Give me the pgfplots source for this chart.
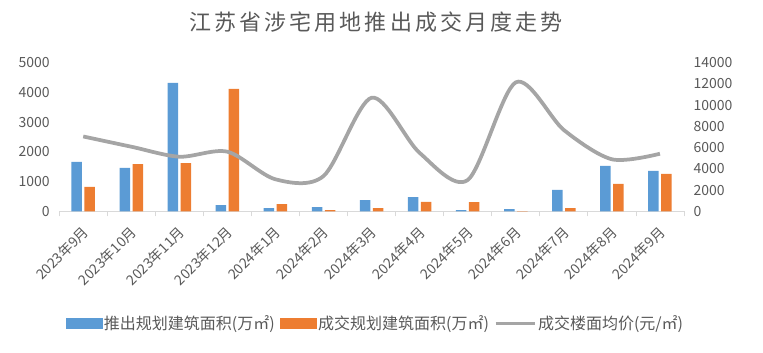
\documentclass[border=0pt]{standalone}
\usepackage{pgfplots}
\pgfplotsset{compat=1.18}
\usepackage{fontspec}
\setmainfont{Noto Sans CJK SC}
\definecolor{cblue}{HTML}{5B9BD5}
\definecolor{corange}{HTML}{ED7D31}
\definecolor{cgray}{HTML}{A5A5A5}
\definecolor{ctext}{HTML}{595959}
\definecolor{caxis}{HTML}{D9D9D9}
\pgfplotsset{
  base/.style={
    scale only axis, width=624.8pt, height=148.6pt,
    at={(59.2pt,141.7pt)}, anchor=south west,
    xmin=-0.5, xmax=12.5,
    /pgf/number format/assume math mode=true,
    /pgf/number format/1000 sep={},
    scaled y ticks=false,
    ticklabel style={font=\fontsize{14}{16}\selectfont, text=ctext},
    major tick length=0pt,
  }
}
\begin{document}
\begin{tikzpicture}[x=1pt,y=1pt]
\path[use as bounding box] (0,0) rectangle (763,353);
\node[font=\fontsize{22}{24}\selectfont\addfontfeatures{LetterSpace=14}, text=ctext] at (376,331) {江苏省涉宅用地推出成交月度走势};
\begin{axis}[base,
  ymin=0, ymax=5000, ytick={0,1000,...,5000},
  axis x line*=bottom, axis y line*=left,
  y axis line style={draw=none},
  x axis line style={draw=caxis, line width=0.8pt, -},
  xtick={0,...,12},
  xticklabels={2023年9月,2023年10月,2023年11月,2023年12月,2024年1月,2024年2月,2024年3月,2024年4月,2024年5月,2024年6月,2024年7月,2024年8月,2024年9月},
  xticklabel style={font=\fontsize{14}{16}\selectfont, xshift=5pt, yshift=-16pt, rotate=45, anchor=east},
  yticklabel style={xshift=-6pt},
  extra x ticks={-0.5,0.5,...,12.5}, extra x tick labels={},
  extra x tick style={major tick length=5pt, tick align=outside, tick style={draw=caxis, line width=0.8pt}},
  ybar, bar width=10.5pt,
]
\addplot[fill=cblue, draw=none, bar shift=-6.5pt] coordinates {
(0,1660) (1,1460) (2,4320) (3,210) (4,110) (5,143) (6,380) (7,480) (8,40) (9,70) (10,717) (11,1525) (12,1357)};
\addplot[fill=corange, draw=none, bar shift=6.5pt] coordinates {
(0,820) (1,1590) (2,1625) (3,4118) (4,245) (5,40) (6,110) (7,313) (8,310) (9,10) (10,110) (11,920) (12,1256)};
\end{axis}
\begin{axis}[base,
  ymin=0, ymax=14000, ytick={0,2000,...,14000},
  axis y line*=right, hide x axis,
  y axis line style={draw=none},
  yticklabel style={xshift=6pt},
  legend columns=3,
  legend style={draw=none, fill=none, at={(0.506,-0.753)}, anchor=center,
    font=\fontsize{16}{18}\selectfont, text=ctext,
    /tikz/every even column/.append style={column sep=3pt},
    /tikz/every odd column/.append style={column sep=0pt},
    nodes={inner sep=2pt}},
]
\addlegendimage{legend image code/.code={\fill[cblue] (0pt,-5pt) rectangle (36pt,5pt);}}
\addlegendentry{推出规划建筑面积(万㎡)}
\addlegendimage{legend image code/.code={\fill[corange] (0pt,-5pt) rectangle (36pt,5pt);}}
\addlegendentry{成交规划建筑面积(万㎡)}
\addplot[cgray, line width=3.75pt, smooth,
  legend image code/.code={\draw[cgray, line width=3pt] (0pt,0pt) -- (39pt,0pt);}] coordinates {
(0,7050) (1,6085) (2,5143) (3,5615) (4,3014) (5,3325) (6,10700) (7,5500) (8,2950) (9,12150) (10,7660) (11,4900) (12,5425)};
\addlegendentry{成交楼面均价(元/㎡)}
\end{axis}
\end{tikzpicture}
\end{document}
